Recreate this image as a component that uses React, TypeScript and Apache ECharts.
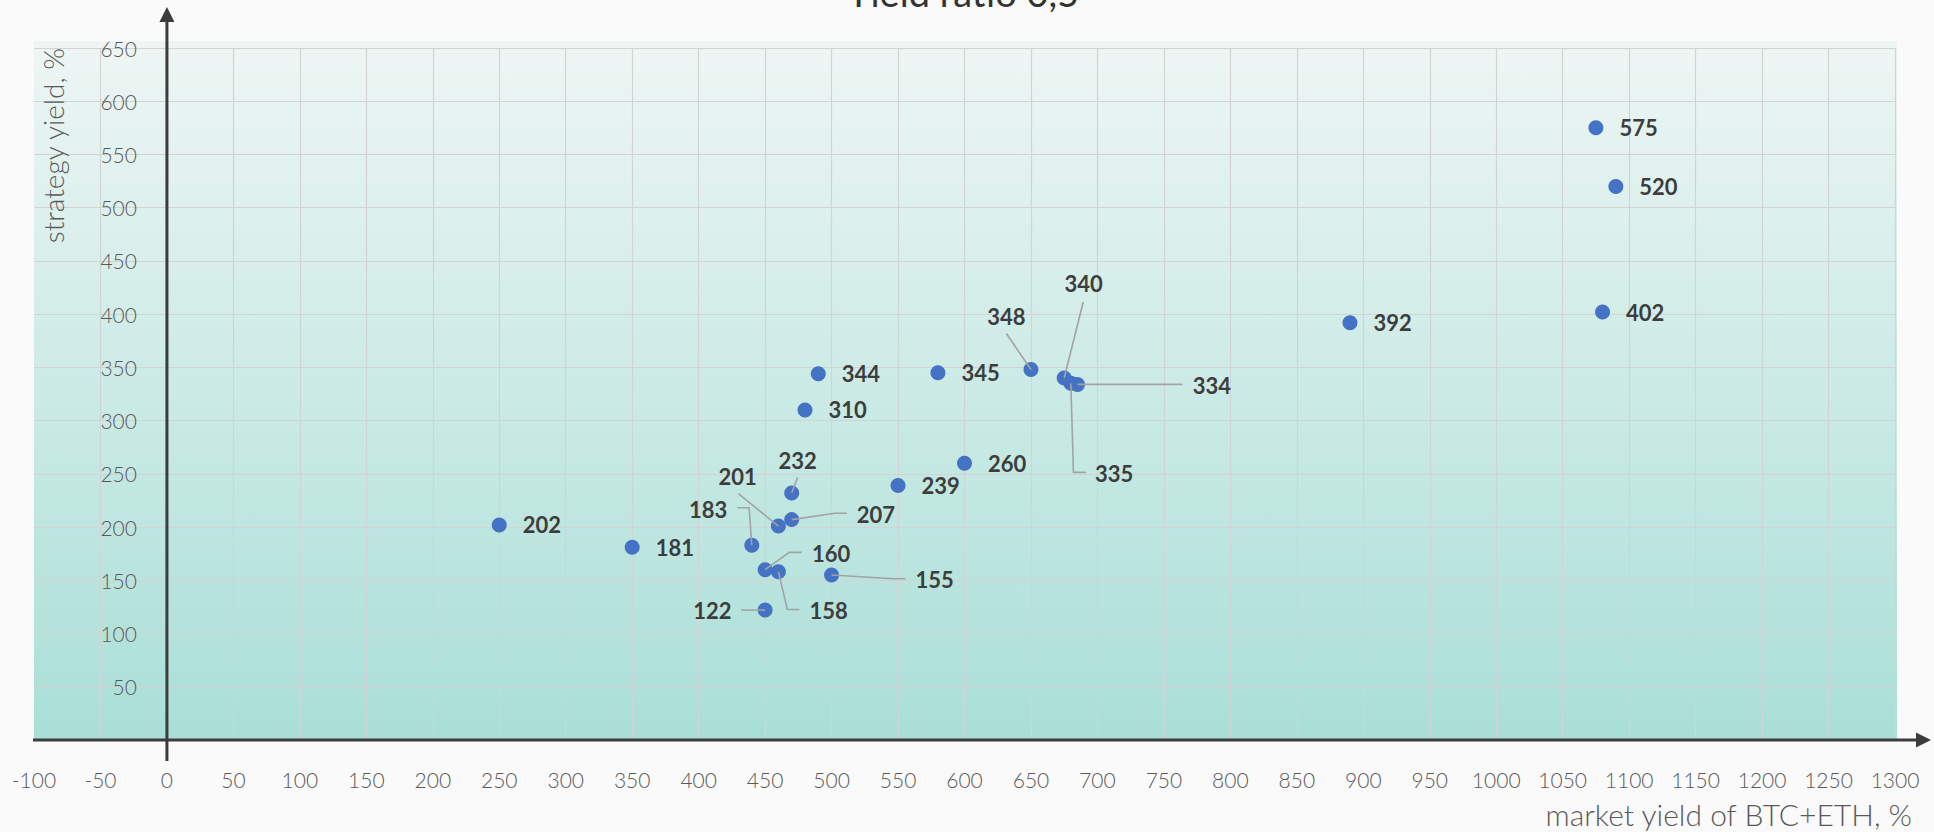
import React, { useEffect, useRef } from "react";
import * as echarts from "echarts";

// ---- data ----
const titleText = "Yield ratio 0,5";
const xAxisName = "market yield of BTC+ETH, %";
const yAxisName = "strategy yield, %";

const xMin = -100;
const xMax = 1300;
const xStep = 50;
const yMin = 0;
const yMax = 650;
const yStep = 50;

const marketYield = [250, 350, 440, 450, 450, 460, 460, 470, 470, 480, 490, 500, 550, 580, 600, 650, 675, 680, 685, 890, 1075, 1080, 1090];
const strategyYield = [202, 181, 183, 160, 122, 201, 158, 207, 232, 310, 344, 155, 239, 345, 260, 348, 340, 335, 334, 392, 575, 402, 520];

// callout labels: point index, label offset (px) and leader line (px, relative to the point)
const calloutIndex = [2, 3, 4, 5, 6, 7, 8, 11, 15, 16, 17, 18];
const calloutOffset = [
  [-43.7, -35.5],
  [66, -16.2],
  [-52.8, 0.5],
  [-40.8, -49.8],
  [50.2, 38.5],
  [84.3, -5.5],
  [6, -32.8],
  [103, 4.2],
  [-24.5, -52.6],
  [19.4, -94.4],
  [43.3, 90.4],
  [134.3, 1],
];
const calloutLine = [
  [[-14.4, -37.5], [-2.7, -37.5], [0, 0]],
  [[36.7, -17.3], [24.3, -17.3], [0, 0]],
  [[-24, 0], [0, 0]],
  [[-40, -32.3], [0, 0]],
  [[21, 37.7], [9, 37.7], [0, 0]],
  [[55, -6.3], [43.3, -6.3], [0, 0]],
  [[6, -15.6], [0, 0]],
  [[74, 3.7], [62, 3.7], [0, 0]],
  [[-24.6, -36], [0, 0]],
  [[19, -76], [0, 0]],
  [[15, 89], [2.6, 89], [0, 0]],
  [[105, 0], [0, 0]],
];

const FONT = "Lato, 'Open Sans', sans-serif";
const TEXT_DARK = "#3d3d3d";
const TEXT_LIGHT = "#595959";
const AXIS_COLOR = "#3c3c3c";

export default function App() {
  const ref = useRef<HTMLDivElement>(null);

  useEffect(() => {
    document.body.style.margin = "0";
    document.body.style.background = "#fafafa";
    if (!ref.current) return;
    const chart = echarts.init(ref.current, undefined, { renderer: "svg" });

    const scatterData = marketYield.map((x, i) => ({
      value: [x, strategyYield[i]],
      label: { show: calloutIndex.indexOf(i) < 0 },
    }));
    const calloutData = calloutIndex.map((i) => [marketYield[i], strategyYield[i]]);

    chart.setOption({
      animation: false,
      backgroundColor: "#fafafa",
      grid: { left: 34, right: 39, top: 48, bottom: 92, containLabel: false, outerBoundsMode: "none" },
      xAxis: {
        type: "value",
        min: xMin,
        max: xMax,
        interval: xStep,
        position: "bottom",
        axisLine: { show: true, onZero: false, lineStyle: { color: "rgba(0,0,0,0)", width: 0 } },
        axisTick: { show: false },
        splitLine: { show: true, showMinLine: false, lineStyle: { color: "#d3d3d3", width: 1.2 } },
        axisLabel: {
          margin: 29,
          fontSize: 21,
          fontFamily: FONT,
          fontWeight: 300,
          color: TEXT_LIGHT,
          formatter: (v: number) => String(v),
        },
      },
      yAxis: {
        type: "value",
        min: yMin,
        max: yMax,
        interval: yStep,
        position: "left",
        offset: 0,
        axisLine: { show: true, onZero: false, lineStyle: { color: "rgba(0,0,0,0)", width: 0 } },
        axisTick: { show: false },
        splitLine: { show: true, lineStyle: { color: "#d3d3d3", width: 1.2 } },
        axisLabel: {
          margin: 30,
          fontSize: 21,
          fontFamily: FONT,
          fontWeight: 300,
          color: TEXT_LIGHT,
          formatter: (v: number) => (v === 0 ? "" : String(v)),
        },
      },
      series: [
        {
          type: "scatter",
          data: scatterData,
          symbolSize: 15,
          itemStyle: { color: "#4472c4", opacity: 1 },
          z: 2,
          label: {
            position: "right",
            distance: 16,
            formatter: (p: any) => String(p.value[1]),
            fontSize: 22,
            fontWeight: "bold",
            fontFamily: FONT,
            color: TEXT_DARK,
            opacity: 1,
          },
        },
        {
          type: "custom",
          data: calloutData,
          z: 3,
          silent: true,
          renderItem: (params: any, api: any) => {
            const k = params.dataIndex;
            const p = api.coord([api.value(0), api.value(1)]);
            const off = calloutOffset[k];
            const pts = calloutLine[k].map(([a, b]) => [p[0] + a, p[1] + b]);
            return {
              type: "group",
              children: [
                {
                  type: "polyline",
                  shape: { points: pts },
                  style: { stroke: "#a3a3a3", lineWidth: 1.6, fill: null },
                },
                {
                  type: "text",
                  x: p[0] + off[0],
                  y: p[1] + off[1],
                  style: {
                    text: String(api.value(1)),
                    align: "center",
                    verticalAlign: "middle",
                    fontSize: 22,
                    fontWeight: "bold",
                    fontFamily: FONT,
                    fill: TEXT_DARK,
                  },
                },
              ],
            };
          },
        },
      ],
    });

    const o = chart.convertToPixel({ gridIndex: 0 }, [0, 0]) as number[];
    const tr = chart.convertToPixel({ gridIndex: 0 }, [xMax, yMax]) as number[];
    const bl = chart.convertToPixel({ gridIndex: 0 }, [xMin, yMin]) as number[];
    const W = chart.getWidth();
    const bgTop = tr[1] - 7;

    chart.setOption({
      yAxis: { offset: -(o[0] - bl[0]) },
      graphic: [
        {
          type: "rect",
          z: -10,
          silent: true,
          shape: { x: bl[0], y: bgTop, width: tr[0] + 2 - bl[0], height: o[1] - bgTop },
          style: {
            fill: new echarts.graphic.LinearGradient(0, 0, 0, 1, [
              { offset: 0, color: "#eef6f4" },
              { offset: 1, color: "#a9dfd7" },
            ]),
          },
        },
        {
          type: "line",
          z: 50,
          silent: true,
          shape: { x1: bl[0] - 1, y1: o[1], x2: tr[0] + 22, y2: o[1] },
          style: { stroke: AXIS_COLOR, lineWidth: 3 },
        },
        {
          type: "polygon",
          z: 50,
          silent: true,
          shape: { points: [[tr[0] + 21, o[1] - 7.5], [tr[0] + 36, o[1]], [tr[0] + 21, o[1] + 7.5]] },
          style: { fill: AXIS_COLOR },
        },
        {
          type: "line",
          z: 50,
          silent: true,
          shape: { x1: o[0], y1: o[1] + 21, x2: o[0], y2: tr[1] - 27 },
          style: { stroke: AXIS_COLOR, lineWidth: 3 },
        },
        {
          type: "polygon",
          z: 50,
          silent: true,
          shape: { points: [[o[0] - 7.5, tr[1] - 26], [o[0], tr[1] - 41], [o[0] + 7.5, tr[1] - 26]] },
          style: { fill: AXIS_COLOR },
        },
        {
          type: "text",
          z: 50,
          silent: true,
          x: W / 2 - 4,
          y: -8,
          style: {
            text: titleText,
            align: "center",
            verticalAlign: "middle",
            fontSize: 38,
            fontFamily: FONT,
            fill: "#333333",
          },
        },
        {
          type: "text",
          z: 50,
          silent: true,
          x: 1912,
          y: 814,
          style: {
            text: xAxisName,
            align: "right",
            verticalAlign: "middle",
            fontSize: 30,
            fontWeight: 300,
            fontFamily: FONT,
            fill: TEXT_LIGHT,
          },
        },
        {
          type: "text",
          z: 50,
          silent: true,
          x: 53,
          y: tr[1],
          rotation: Math.PI / 2,
          style: {
            text: yAxisName,
            align: "right",
            verticalAlign: "middle",
            fontSize: 28,
            fontWeight: 300,
            fontFamily: FONT,
            fill: TEXT_LIGHT,
          },
        },
      ],
    });

    return () => chart.dispose();
  }, []);

  return <div ref={ref} style={{ width: 1934, height: 832, background: "#fafafa" }} />;
}
